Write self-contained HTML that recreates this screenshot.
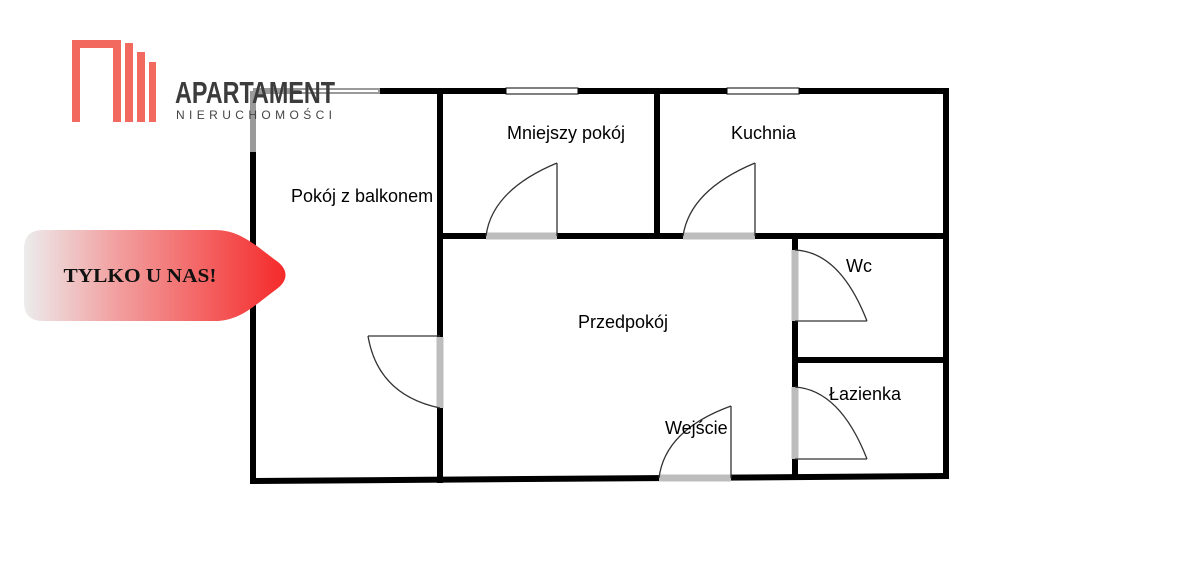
<!DOCTYPE html>
<html><head><meta charset="utf-8"><style>
html,body{margin:0;padding:0;background:#fff;}
svg{display:block;}
</style></head><body>
<svg width="1200" height="572" viewBox="0 0 1200 572" xmlns="http://www.w3.org/2000/svg">
<defs>
<linearGradient id="g" x1="0" x2="1" y1="0" y2="0">
<stop offset="0" stop-color="#ececec"/>
<stop offset="0.35" stop-color="#f2a0a0"/>
<stop offset="1" stop-color="#f52a2a"/>
</linearGradient>
</defs>
<!-- logo -->
<g fill="#f2695f">
<path d="M72 40 H121 V122 H113 V48 H80 V122 H72 Z"/>
<rect x="125" y="43" width="8" height="79"/>
<rect x="137" y="52" width="8" height="70"/>
<rect x="149" y="62" width="7" height="60"/>
</g>
<!-- walls -->
<g stroke="#000" stroke-width="6" fill="none" stroke-linecap="square">
<line x1="380" y1="91" x2="946" y2="91"/>
<line x1="946" y1="91" x2="946" y2="476"/>
<line x1="253" y1="152" x2="253" y2="481"/>
<line x1="253" y1="481" x2="946" y2="476"/>
<line x1="440" y1="91" x2="440" y2="337"/>
<line x1="440" y1="408" x2="440" y2="480"/>
<line x1="440" y1="236" x2="946" y2="236"/>
<line x1="657" y1="91" x2="657" y2="236"/>
<line x1="795" y1="236" x2="795" y2="250"/>
<line x1="795" y1="321" x2="795" y2="387"/>
<line x1="795" y1="459" x2="795" y2="476"/>
<line x1="795" y1="360" x2="946" y2="360"/>
</g>
<!-- top-left window (grey) -->
<g>
<line x1="253" y1="91" x2="380" y2="91" stroke="#9a9a9a" stroke-width="6"/>
<line x1="253" y1="91" x2="253" y2="152" stroke="#9a9a9a" stroke-width="6"/>
<line x1="300" y1="91" x2="378" y2="91" stroke="#fff" stroke-width="2"/>
</g>
<!-- windows -->
<rect x="506" y="88" width="72" height="6" fill="#fff" stroke="#000" stroke-width="1"/>
<rect x="727" y="88" width="72" height="6" fill="#fff" stroke="#000" stroke-width="1"/>
<!-- door openings grey -->
<g stroke="#bdbdbd" stroke-width="7">
<line x1="440" y1="337" x2="440" y2="408"/>
<line x1="486" y1="236" x2="557" y2="236"/>
<line x1="683" y1="236" x2="755" y2="236"/>
<line x1="795" y1="250" x2="795" y2="321"/>
<line x1="795" y1="387" x2="795" y2="459"/>
<line x1="659" y1="478" x2="731" y2="478"/>
</g>
<!-- door leaves and arcs -->
<g stroke="#333" stroke-width="1.3" fill="none">
<line x1="440" y1="336" x2="368" y2="336"/>
<path d="M368 336 Q378 395 440 408"/>
<line x1="557" y1="236" x2="557" y2="163"/>
<path d="M557 163 Q492 190 486 236"/>
<line x1="755" y1="236" x2="755" y2="163"/>
<path d="M755 163 Q690 190 683 236"/>
<line x1="795" y1="321" x2="867" y2="321"/>
<path d="M795 250 Q840 252 867 321"/>
<line x1="795" y1="459" x2="867" y2="459"/>
<path d="M795 387 Q840 390 867 459"/>
<line x1="731" y1="478" x2="731" y2="406"/>
<path d="M731 406 Q665 430 659 478"/>
</g>
<!-- banner -->
<path d="M44 230 H215 C240 230 255 245 278 262 C288 270 288 280 278 288 C255 305 240 321 215 321 H44 C30 321 24 315 24 301 V250 C24 236 30 230 44 230 Z" fill="url(#g)"/>
<text x="140" y="282" font-family="Liberation Serif, serif" font-weight="bold" font-size="20" text-anchor="middle" fill="#111" textLength="153" lengthAdjust="spacingAndGlyphs">TYLKO U NAS!</text>
<!-- logo text -->
<text x="175" y="103" font-family="Liberation Sans, sans-serif" font-weight="bold" font-size="31" fill="#3c3c3c" textLength="160" lengthAdjust="spacingAndGlyphs">APARTAMENT</text>
<text x="176" y="119" font-family="Liberation Sans, sans-serif" font-size="12" fill="#444" textLength="156" lengthAdjust="spacing">NIERUCHOMOŚCI</text>
<!-- labels -->
<g font-family="Liberation Sans, sans-serif" font-size="18" fill="#000">
<text x="291" y="202">Pokój z balkonem</text>
<text x="507" y="139">Mniejszy pokój</text>
<text x="731" y="139">Kuchnia</text>
<text x="846" y="272">Wc</text>
<text x="578" y="328">Przedpokój</text>
<text x="829" y="400">Łazienka</text>
<text x="665" y="434">Wejście</text>
</g>
</svg>
</body></html>
